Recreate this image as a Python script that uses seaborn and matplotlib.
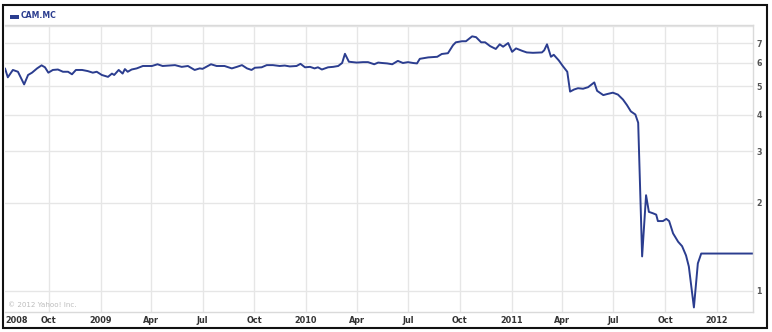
import matplotlib
matplotlib.use("Agg")
import matplotlib.pyplot as plt
import seaborn as sns
import pandas as pd
from matplotlib.patches import Rectangle
from matplotlib.ticker import FixedLocator, NullLocator

# ---------------- data ----------------
dates = [
    "2008-07-15", "2008-07-20", "2008-07-29", "2008-08-07", "2008-08-18", "2008-08-25",
    "2008-09-01", "2008-09-10", "2008-09-18", "2008-09-24", "2008-09-30", "2008-10-08",
    "2008-10-17", "2008-10-26", "2008-11-04", "2008-11-11", "2008-11-18", "2008-11-29",
    "2008-12-09", "2008-12-18", "2008-12-25",
    "2009-01-03", "2009-01-14", "2009-01-21", "2009-01-25", "2009-02-02", "2009-02-09",
    "2009-02-13", "2009-02-18", "2009-02-25", "2009-03-06", "2009-03-17", "2009-04-02",
    "2009-04-12", "2009-04-21", "2009-05-13", "2009-05-25", "2009-06-05", "2009-06-17",
    "2009-06-26", "2009-07-01", "2009-07-16", "2009-07-26", "2009-08-09", "2009-08-22",
    "2009-08-31", "2009-09-09", "2009-09-18", "2009-09-26", "2009-10-02", "2009-10-14",
    "2009-10-23", "2009-11-03", "2009-11-15", "2009-11-24", "2009-12-03", "2009-12-15",
    "2009-12-22", "2009-12-30",
    "2010-01-08", "2010-01-16", "2010-01-22", "2010-01-29", "2010-02-09", "2010-02-18",
    "2010-02-27", "2010-03-06", "2010-03-11", "2010-03-18", "2010-04-01", "2010-04-12",
    "2010-04-21", "2010-05-02", "2010-05-09", "2010-05-16", "2010-05-25", "2010-06-03",
    "2010-06-13", "2010-06-22", "2010-07-01", "2010-07-10", "2010-07-17", "2010-07-22",
    "2010-08-06", "2010-08-22", "2010-08-30", "2010-09-10", "2010-09-19", "2010-09-24",
    "2010-10-05", "2010-10-12", "2010-10-23", "2010-10-30", "2010-11-08", "2010-11-15",
    "2010-11-24", "2010-12-04", "2010-12-11", "2010-12-17", "2010-12-26",
    "2011-01-02", "2011-01-09", "2011-01-20", "2011-01-28", "2011-02-08", "2011-02-24",
    "2011-02-28", "2011-03-05", "2011-03-12", "2011-03-17", "2011-03-26", "2011-04-02",
    "2011-04-10", "2011-04-15", "2011-04-22", "2011-04-29", "2011-05-08", "2011-05-17",
    "2011-05-28", "2011-06-02", "2011-06-13", "2011-06-20", "2011-06-30", "2011-07-09",
    "2011-07-18", "2011-07-25", "2011-08-01", "2011-08-09", "2011-08-14", "2011-08-21",
    "2011-08-28", "2011-09-02", "2011-09-09", "2011-09-15", "2011-09-18", "2011-09-27",
    "2011-10-03", "2011-10-08", "2011-10-15", "2011-10-24", "2011-10-31", "2011-11-07",
    "2011-11-12", "2011-11-21", "2011-11-28", "2011-12-04",
    "2012-03-05",
]

prices = [
    5.75, 5.36, 5.68, 5.60, 5.07, 5.46,
    5.56, 5.75, 5.89, 5.80, 5.56, 5.68,
    5.70, 5.60, 5.60, 5.49, 5.68, 5.68,
    5.63, 5.56, 5.60,
    5.46, 5.38, 5.52, 5.46, 5.68, 5.52,
    5.72, 5.60, 5.70, 5.75, 5.86, 5.86,
    5.94, 5.86, 5.90, 5.82, 5.86, 5.68,
    5.75, 5.73, 5.94, 5.86, 5.86, 5.75,
    5.82, 5.90, 5.75, 5.68, 5.78, 5.80,
    5.90, 5.90, 5.86, 5.88, 5.84, 5.86,
    5.96, 5.80,
    5.82, 5.75, 5.80, 5.70, 5.80, 5.82,
    5.86, 6.00, 6.45, 6.06, 6.02, 6.04,
    6.04, 5.94, 6.02, 6.00, 5.98, 5.94,
    6.10, 6.00, 6.04, 6.00, 5.98, 6.20,
    6.27, 6.30, 6.44, 6.48, 6.90, 7.06,
    7.12, 7.12, 7.40, 7.35, 7.06, 7.06,
    6.85, 6.70, 6.95, 6.82, 7.02,
    6.55, 6.73, 6.60, 6.52, 6.50, 6.52,
    6.63, 6.95, 6.30, 6.40, 6.12, 5.86,
    5.60, 4.79, 4.87, 4.92, 4.90, 4.96,
    5.15, 4.82, 4.66, 4.70, 4.75, 4.68,
    4.50, 4.31, 4.10, 4.00, 3.75, 1.31,
    2.12, 1.86, 1.84, 1.82, 1.73, 1.73,
    1.76, 1.73, 1.57, 1.47, 1.42, 1.32,
    1.21, 0.877, 1.24, 1.34,
    1.34,
]

series_name = "CAM.MC"
x_start, x_end = "2008-07-15", "2012-03-05"
y_min, y_max = 0.846, 8.09

x_tick_dates = ["2008-07-15", "2008-10-01", "2009-01-01", "2009-04-01", "2009-07-01",
                "2009-10-01", "2010-01-01", "2010-04-01", "2010-07-01", "2010-10-01",
                "2011-01-01", "2011-04-01", "2011-07-01", "2011-10-01", "2012-01-01"]
x_tick_labels = ["2008", "Oct", "2009", "Apr", "Jul", "Oct", "2010", "Apr", "Jul", "Oct",
                 "2011", "Apr", "Jul", "Oct", "2012"]
y_grid = [1, 2, 3, 4, 5, 6, 7, 8]
y_labels = ["1", "2", "3", "4", "5", "6", "7", ""]

# ---------------- style ----------------
LINE = "#2b3d8f"
GRID = "#e6e6e6"
W, H = 772, 332

sns.set_style("white")
plt.rcParams["font.family"] = ["DejaVu Sans"]

fig = plt.figure(figsize=(W / 100, H / 100), dpi=100)
fig.patch.set_facecolor("white")
ax = fig.add_axes([5 / W, 20 / H, 748 / W, 287 / H])

df = pd.DataFrame({"date": pd.to_datetime(dates), "price": prices})
sns.lineplot(data=df, x="date", y="price", ax=ax, color=LINE, linewidth=1.4)

ax.set_yscale("log")
ax.set_ylim(y_min, y_max)
ax.set_xlim(pd.Timestamp(x_start), pd.Timestamp(x_end))
ax.set_xlabel("")
ax.set_ylabel("")

ax.yaxis.set_major_locator(FixedLocator(y_grid))
ax.yaxis.set_minor_locator(NullLocator())
ax.set_yticklabels(y_labels)
ax.yaxis.tick_right()

ax.set_xticks(pd.to_datetime(x_tick_dates))
ax.set_xticklabels(x_tick_labels)
ax.xaxis.set_minor_locator(NullLocator())

ax.grid(True, color=GRID, linewidth=1.0)
ax.xaxis.get_major_ticks()[0].gridline.set_visible(False)

ax.tick_params(axis="y", length=0, pad=2.5, labelsize=5.7, labelcolor="#555555")
ax.tick_params(axis="x", length=0, pad=3.0, labelsize=5.9, labelcolor="#333333")
for lab in ax.get_yticklabels() + ax.get_xticklabels():
    lab.set_fontweight("bold")
ax.get_xticklabels()[0].set_horizontalalignment("left")

for side in ("top", "right", "bottom"):
    ax.spines[side].set_visible(True)
    ax.spines[side].set_color("#dadada")
    ax.spines[side].set_linewidth(1.0)
ax.spines["left"].set_visible(False)

# legend
fig.add_artist(Rectangle((10 / W, 1 - 18.8 / H), 8.5 / W, 3.6 / H,
                         transform=fig.transFigure, facecolor=LINE, edgecolor="none"))
fig.text(20.5 / W, 1 - 15.8 / H, series_name, fontsize=5.6, fontweight="bold",
         color=LINE, va="center", ha="left")

# copyright
fig.text(7.5 / W, 1 - 304.7 / H, "\u00a9 2012 Yahoo! Inc.", fontsize=5.1,
         color="#bdbdbd", va="center", ha="left")

# outer border
fig.add_artist(Rectangle((3.5 / W, 4 / H), 763 / W, 323.5 / H,
                         transform=fig.transFigure, fill=False, lw=1.5, ec="#111111"))

fig.savefig("out.png", dpi=100, facecolor="white")
